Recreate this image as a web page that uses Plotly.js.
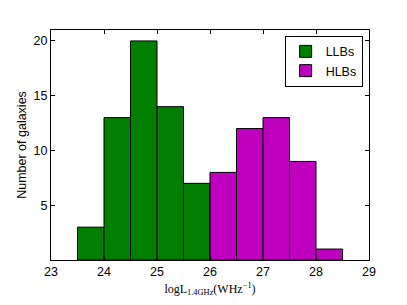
<!DOCTYPE html>
<html><head><meta charset="utf-8">
<script src="https://cdn.plot.ly/plotly-3.0.1.min.js"></script>
<style>html,body{margin:0;padding:0;background:#fff;}#chart{width:407px;height:305px;}</style>
</head><body><div id="chart"></div>
<script>
const binWidth = 0.5;
const llbBinStarts = [23.5, 24.0, 24.5, 25.0, 25.5];
const llbCounts = [3, 13, 20, 14, 7];
const hlbBinStarts = [26.0, 26.5, 27.0, 27.5, 28.0];
const hlbCounts = [8, 12, 13, 9, 1];
const xTicks = [23, 24, 25, 26, 27, 28, 29];
const yTicks = [5, 10, 15, 20];

function centers(starts){ return starts.map(s => s + binWidth/2); }

const traces = [
  {type:'bar', name:'LLBs', x:centers(llbBinStarts), y:llbCounts, width:binWidth,
   marker:{color:'#007f00', line:{color:'#000', width:1}}},
  {type:'bar', name:'HLBs', x:centers(hlbBinStarts), y:hlbCounts, width:binWidth,
   marker:{color:'#bf00bf', line:{color:'#000', width:1}}}
];

const layout = {
  width:407, height:305,
  margin:{l:51, r:38, t:30, b:45},
  paper_bgcolor:'#fff', plot_bgcolor:'#fff',
  font:{family:'Liberation Sans, Arial, sans-serif', size:12, color:'#000'},
  showlegend:true,
  barmode:'overlay',
  xaxis:{range:[23,29], tickvals:xTicks, ticks:'inside', ticklen:4, tickcolor:'#000',
    showline:true, linecolor:'#000', linewidth:1, mirror:'allticks', showgrid:false, zeroline:false,
    tickfont:{size:12.5},
    title:{text:'logL<sub>1.4GHz</sub>(WHz<sup>−1</sup>)', font:{family:'Liberation Serif, DejaVu Serif, serif', size:12}, standoff:6}},
  yaxis:{range:[0,21], tickvals:yTicks, ticks:'inside', ticklen:4, tickcolor:'#000',
    showline:true, linecolor:'#000', linewidth:1, mirror:'allticks', showgrid:false, zeroline:false,
    tickfont:{size:12.5},
    title:{text:'Number of galaxies', font:{size:12.5}, standoff:4}},
  legend:{x:0.98, y:0.975, xanchor:'right', yanchor:'top', bgcolor:'#fff',
    bordercolor:'#000', borderwidth:1, font:{size:12.5}, traceorder:'normal',
    itemwidth:30, tracegroupgap:0}
};
Plotly.newPlot('chart', traces, layout, {displayModeBar:false, staticPlot:true});
</script></body></html>
